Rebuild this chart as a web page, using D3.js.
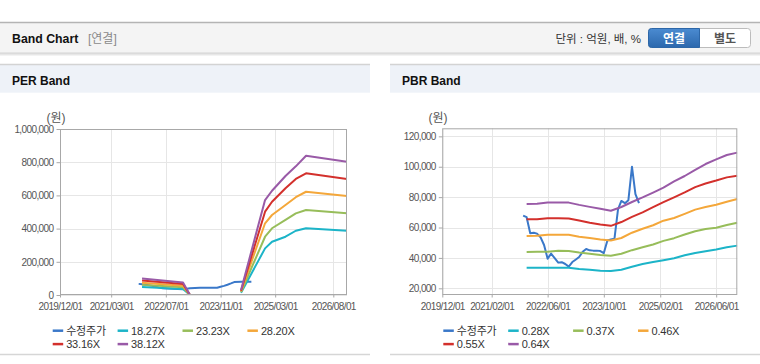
<!DOCTYPE html>
<html><head><meta charset="utf-8">
<script src="https://cdn.jsdelivr.net/npm/d3@7"></script>
<style>
html,body{margin:0;padding:0;background:#fff;}
svg{display:block;font-family:"Liberation Sans",Arial,"Noto Sans CJK KR",sans-serif;}
</style></head><body>
<svg id="c" width="760" height="364"></svg>
<script>
// ---------- DATA ----------
const seriesNames = ["수정주가"];
const perMultiples = ["18.27X", "23.23X", "28.20X", "33.16X", "38.12X"];
const pbrMultiples = ["0.28X", "0.37X", "0.46X", "0.55X", "0.64X"];

const perXTicks = ["2019/12/01", "2021/03/01", "2022/07/01", "2023/11/01", "2025/03/01", "2026/08/01"];
const pbrXTicks = ["2019/12/01", "2021/02/01", "2022/06/01", "2023/10/01", "2025/02/01", "2026/06/01"];
const perYTicks = [0, 200000, 400000, 600000, 800000, 1000000];
const pbrYTicks = [20000, 40000, 60000, 80000, 100000, 120000];

// PER chart: adjusted price
const perPriceDates = ["2021-11", "2021-12", "2022-03", "2022-06", "2022-09", "2022-12", "2023-02", "2023-05", "2023-08", "2023-10", "2023-11", "2023-12", "2024-01", "2024-02", "2024-03", "2024-05", "2024-08"];
const perPrice = [67000, 65000, 56000, 40000, 37000, 35000, 40000, 44000, 44000, 44000, 50000, 55000, 62000, 70000, 78000, 80000, 80000];

// PER chart: bands (null = no value)
const perBandDates = ["2021-12", "2022-06", "2022-12", "2023-02", "2023-06", "2024-05", "2024-12", "2025-02", "2025-06", "2025-09", "2025-12", "2026-12"];
const per1827 = [48000, 42000, 36500, 0, null, 14000, 281000, 321000, 351000, 387000, 402000, 387000];
const per2323 = [61000, 53500, 46000, 0, null, 18000, 351000, 402000, 452000, 492000, 512000, 492000];
const per2820 = [74000, 65000, 56000, 0, null, 22000, 432000, 482000, 542000, 589000, 622000, 596000];
const per3316 = [87000, 76500, 66000, 0, null, 26000, 502000, 562000, 643000, 699000, 733000, 699000];
const per3812 = [100000, 88000, 76000, 0, null, 30000, 572000, 628000, 717000, 775000, 839000, 803000];

// PBR chart: adjusted price (monthly)
const pbrPriceDates = ["2021-11", "2021-12", "2022-01", "2022-02", "2022-03", "2022-04", "2022-05", "2022-06", "2022-07", "2022-08", "2022-09", "2022-10", "2022-11", "2022-12", "2023-01", "2023-02", "2023-03", "2023-04", "2023-05", "2023-06", "2023-07", "2023-08", "2023-09", "2023-10", "2023-11", "2023-12", "2024-01", "2024-02", "2024-03", "2024-04", "2024-05", "2024-06", "2024-07", "2024-08"];
const pbrPrice = [67800, 66800, 56200, 56600, 56000, 53500, 48500, 39500, 42800, 39800, 36900, 37200, 36000, 34300, 37300, 39000, 40600, 44000, 45900, 45000, 44800, 44800, 44500, 43200, 51500, 52200, 52600, 72000, 77500, 76000, 78000, 100000, 82000, 76000];

// PBR chart: bands (quarterly)
const pbrBandDates = ["2021-12", "2022-03", "2022-06", "2022-09", "2022-12", "2023-03", "2023-06", "2023-09", "2023-12", "2024-03", "2024-06", "2024-09", "2024-12", "2025-03", "2025-06", "2025-09", "2025-12", "2026-03", "2026-06", "2026-09", "2026-12"];
const pbr028 = [33600, 33600, 33600, 33600, 33500, 32700, 32200, 31500, 31400, 32200, 34200, 36000, 37300, 38500, 39800, 41700, 43200, 44400, 45600, 47000, 48100];
const pbr037 = [43900, 44000, 44100, 44700, 44500, 43500, 42800, 42000, 41500, 42700, 45100, 47000, 48800, 51200, 53000, 55400, 57600, 59000, 59900, 61700, 63200];
const pbr046 = [54400, 54600, 55300, 55300, 55200, 54000, 53100, 52100, 51500, 53100, 56600, 59200, 61500, 64500, 66300, 69000, 71800, 73500, 75000, 77000, 78800];
const pbr055 = [65400, 65500, 66100, 66100, 66000, 64600, 63200, 62000, 61100, 63600, 67000, 70000, 73400, 76700, 79900, 83100, 86600, 89000, 90900, 93000, 94100];
const pbr064 = [75500, 75600, 76400, 76400, 76400, 74900, 73600, 72400, 71000, 73500, 76800, 79800, 83000, 86300, 90400, 93900, 98000, 101800, 104800, 107700, 109300];

const colors = ["#3a78c9", "#1cb4c8", "#97bd5a", "#f4a73a", "#d3302c", "#995aa7"];

// ---------- DRAW ----------
const svg = d3.select("#c");
const pm = d3.timeParse("%Y-%m");
const pt = d3.timeParse("%Y/%m/%d");
const fmtT = d3.timeFormat("%Y/%m/%d");

svg.append("rect").attr("width", 760).attr("height", 364).attr("fill", "#fff");

// top header bar
const defs = svg.append("defs");
const sh = defs.append("linearGradient").attr("id", "sh").attr("x1", 0).attr("y1", 0).attr("x2", 0).attr("y2", 1);
sh.append("stop").attr("offset", 0).attr("stop-color", "#cfcfcf");
sh.append("stop").attr("offset", 1).attr("stop-color", "#ffffff");
const bg = defs.append("linearGradient").attr("id", "bb").attr("x1", 0).attr("y1", 0).attr("x2", 0).attr("y2", 1);
bg.append("stop").attr("offset", 0).attr("stop-color", "#4b8bd1");
bg.append("stop").attr("offset", 1).attr("stop-color", "#2c68ad");

svg.append("rect").attr("x", 0).attr("y", 23).attr("width", 760).attr("height", 29.5).attr("fill", "#f4f4f4");
svg.append("line").attr("x1", 0).attr("x2", 760).attr("y1", 22.5).attr("y2", 22.5).attr("stroke", "#b4b4b4").attr("stroke-width", 1.5);
svg.append("rect").attr("x", 0).attr("y", 52.5).attr("width", 760).attr("height", 4).attr("fill", "url(#sh)");

svg.append("text").attr("x", 12).attr("y", 43).attr("font-size", 12.3).attr("font-weight", "bold").attr("fill", "#111").text("Band Chart");
svg.append("text").attr("x", 88).attr("y", 43).attr("font-size", 12).attr("fill", "#8a8a8a").text("[연결]");
svg.append("text").attr("x", 641).attr("y", 43).attr("font-size", 11.5).attr("fill", "#333").attr("text-anchor", "end").text("단위 : 억원, 배, %");

// buttons
svg.append("rect").attr("x", 648.5).attr("y", 28.5).attr("width", 102).attr("height", 19).attr("rx", 3).attr("fill", "#fff").attr("stroke", "#bcbcbc");
svg.append("path").attr("d", "M651.5,28.5 H699.5 V47.5 H651.5 Q648.5,47.5 648.5,44.5 V31.5 Q648.5,28.5 651.5,28.5 Z").attr("fill", "url(#bb)").attr("stroke", "#2d67a8");
svg.append("text").attr("x", 674).attr("y", 42.5).attr("font-size", 12).attr("font-weight", "bold").attr("fill", "#fff").attr("text-anchor", "middle").text("연결");
svg.append("text").attr("x", 725).attr("y", 42.5).attr("font-size", 12).attr("font-weight", "bold").attr("fill", "#555").attr("text-anchor", "middle").text("별도");

function buildSeries(dates, vals) {
  return dates.map((d, i) => ({ d: pm(d), v: vals[i] }));
}

function drawPanel(o) {
  const g = svg.append("g");
  // panel header
  g.append("rect").attr("x", o.px0).attr("y", 64.5).attr("width", o.px1 - o.px0).attr("height", 28.2).attr("fill", "#eef2f8");
  g.append("line").attr("x1", o.px0).attr("x2", o.px1).attr("y1", 64.5).attr("y2", 64.5).attr("stroke", "#d3d3d3").attr("stroke-width", 1.5);
  g.append("line").attr("x1", o.px0).attr("x2", o.px1).attr("y1", 354.5).attr("y2", 354.5).attr("stroke", "#d6d6d6").attr("stroke-width", 1.5);
  g.append("text").attr("x", o.px0 + 12).attr("y", 85).attr("font-size", 12).attr("font-weight", "bold").attr("fill", "#111").text(o.title);

  const x = d3.scaleTime().domain([pt("2019/12/01"), pt("2026/12/01")]).range([o.x0, o.x1]);
  const y = d3.scaleLinear().domain(o.yDomain).range([295, o.yTop]);
  const xt = o.xTicks.map(pt);

  // grid
  g.append("g").selectAll("line.h").data(o.yTicks).join("line")
    .attr("x1", o.x0).attr("x2", o.x1).attr("y1", d => Math.round(y(d)) + 0.5).attr("y2", d => Math.round(y(d)) + 0.5)
    .attr("stroke", "#e6e6e6");
  g.append("g").selectAll("line.v").data(xt).join("line")
    .attr("y1", o.yTop).attr("y2", 295).attr("x1", d => Math.round(x(d)) + 0.5).attr("x2", d => Math.round(x(d)) + 0.5)
    .attr("stroke", "#e6e6e6");

  // clip
  const cid = "clip" + o.id;
  defs.append("clipPath").attr("id", cid).append("rect").attr("x", o.x0).attr("y", o.yTop).attr("width", o.x1 - o.x0).attr("height", 295 - o.yTop);

  const line = d3.line().defined(d => d.v != null).x(d => x(d.d)).y(d => y(d.v));
  const lg = g.append("g").attr("clip-path", `url(#${cid})`);
  o.series.forEach((s, i) => {
    lg.append("path").datum(s).attr("d", line).attr("fill", "none")
      .attr("stroke", colors[i]).attr("stroke-width", 2).attr("stroke-linejoin", "round");
  });

  // frame
  g.append("rect").attr("x", o.x0 + 0.5).attr("y", o.yTop + 0.5).attr("width", o.x1 - o.x0 - 1).attr("height", 295 - o.yTop - 1)
    .attr("fill", "none").attr("stroke", "#a8a8a8");

  // axes
  const ya = g.append("g").attr("transform", `translate(${o.x0 + 0.5},0)`)
    .call(d3.axisLeft(y).tickValues(o.yTicks).tickFormat(d3.format(",")).tickSize(4).tickPadding(3).tickSizeOuter(0));
  const xa = g.append("g").attr("transform", `translate(0,${294.5})`)
    .call(d3.axisBottom(x).tickValues(xt).tickFormat(fmtT).tickSize(3).tickPadding(5).tickSizeOuter(0));
  [ya, xa].forEach(a => {
    a.select(".domain").remove();
    a.selectAll("line").attr("stroke", "#a8a8a8");
    a.selectAll("text").attr("font-size", 10).attr("fill", "#555").attr("letter-spacing", "-0.6px")
      .attr("font-family", '"Liberation Sans",Arial,sans-serif');
  });

  g.append("text").attr("x", o.unitX).attr("y", 122).attr("font-size", 12).attr("fill", "#555").attr("text-anchor", "middle").text("(원)");

  // legend
  const names = seriesNames.concat(o.multiples);
  names.forEach((n, i) => {
    const row = Math.floor(i / 4), col = i % 4;
    const lx = o.legX + col * 64.9, ly = 330.7 + row * 13.4;
    g.append("line").attr("x1", lx).attr("x2", lx + 10.5).attr("y1", ly).attr("y2", ly).attr("stroke", colors[i]).attr("stroke-width", 2.5);
    g.append("text").attr("x", lx + 13.5).attr("y", ly + 4).attr("font-size", 11).attr("fill", "#333").attr("letter-spacing", "-0.2px").text(n);
  });
}

drawPanel({
  id: "per", title: "PER Band", px0: 0, px1: 370, x0: 60, x1: 347, yTop: 129,
  yDomain: [0, 1000000], yTicks: perYTicks, xTicks: perXTicks, unitX: 56, legX: 52.7,
  multiples: perMultiples,
  series: [buildSeries(perPriceDates, perPrice), buildSeries(perBandDates, per1827), buildSeries(perBandDates, per2323),
           buildSeries(perBandDates, per2820), buildSeries(perBandDates, per3316), buildSeries(perBandDates, per3812)]
});
drawPanel({
  id: "pbr", title: "PBR Band", px0: 390, px1: 760, x0: 442.3, x1: 737.3, yTop: 128.3,
  yDomain: [15600, 125300], yTicks: pbrYTicks, xTicks: pbrXTicks, unitX: 438, legX: 443.3,
  multiples: pbrMultiples,
  series: [buildSeries(pbrPriceDates, pbrPrice), buildSeries(pbrBandDates, pbr028), buildSeries(pbrBandDates, pbr037),
           buildSeries(pbrBandDates, pbr046), buildSeries(pbrBandDates, pbr055), buildSeries(pbrBandDates, pbr064)]
});
</script>
</body></html>
